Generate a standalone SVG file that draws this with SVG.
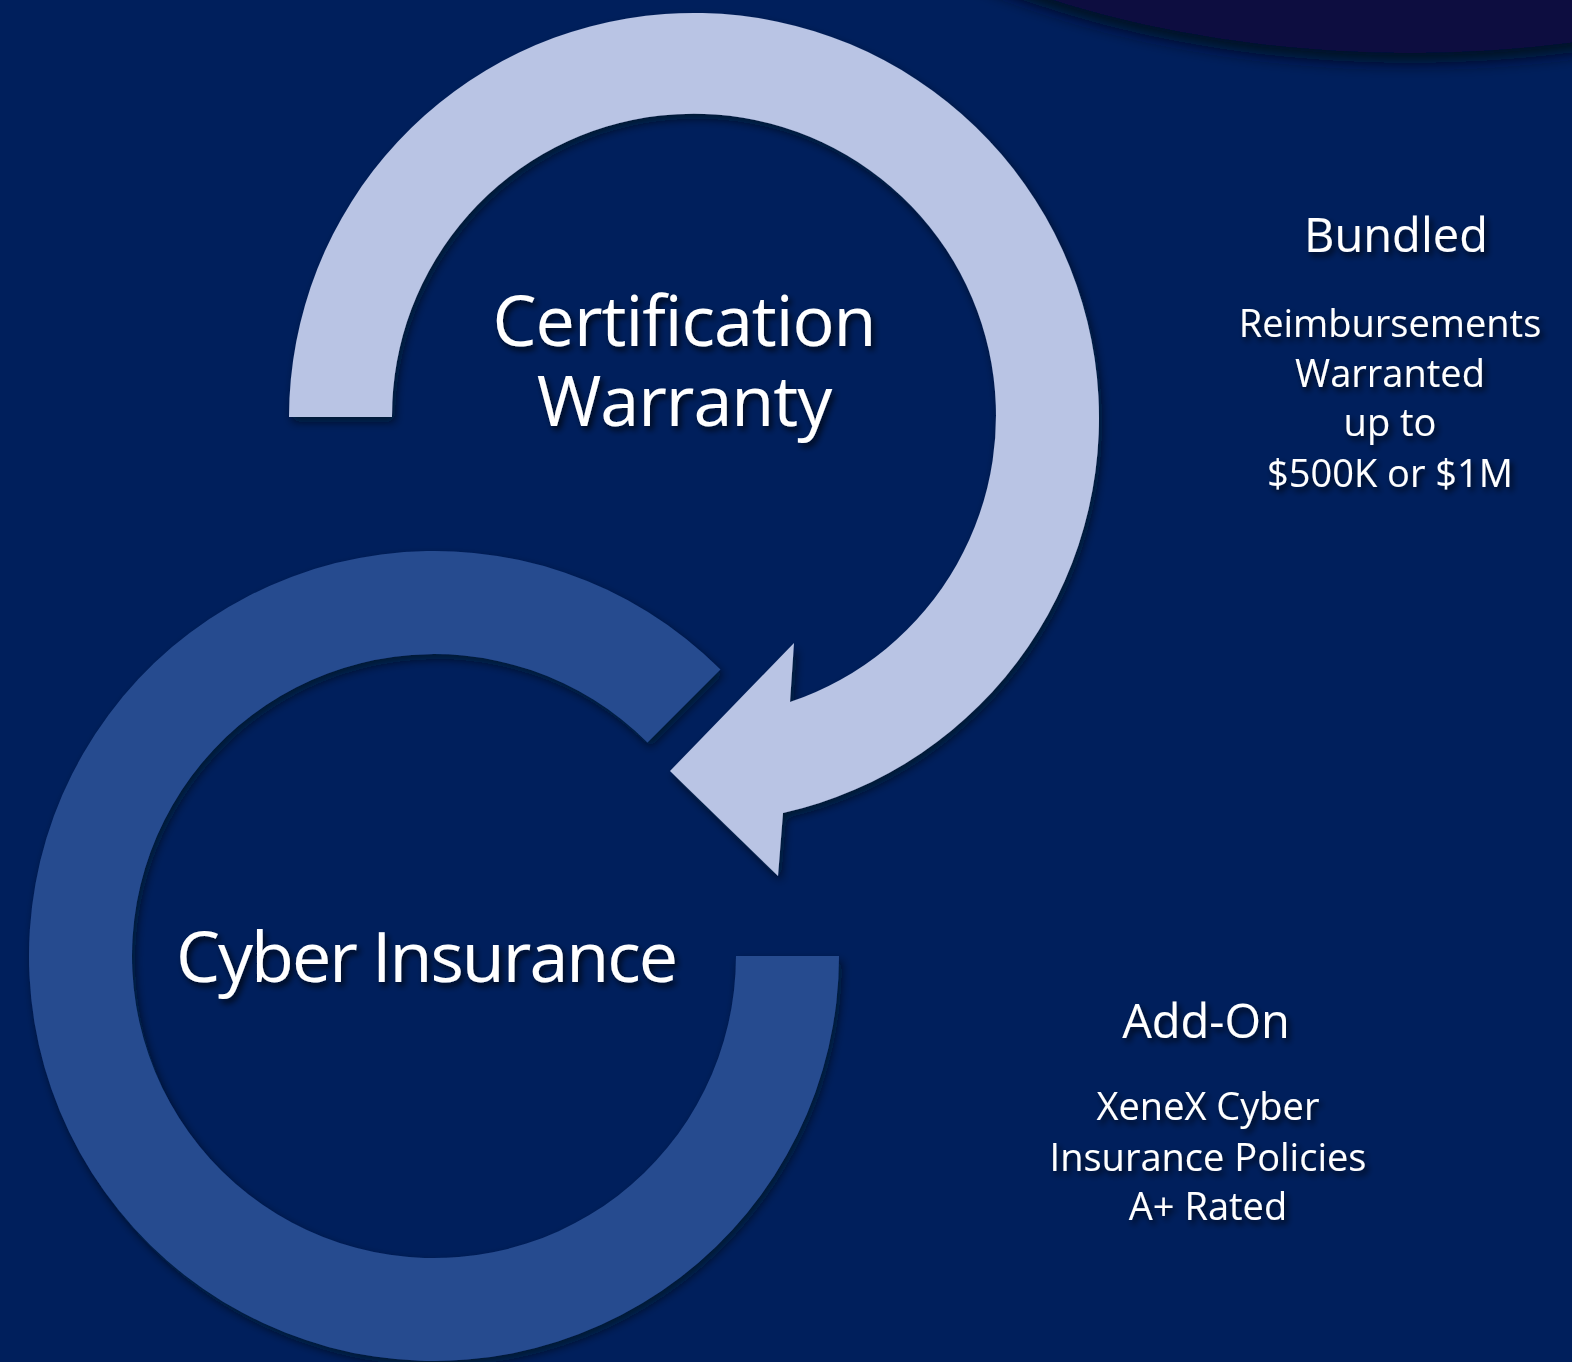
<svg xmlns="http://www.w3.org/2000/svg" width="1572" height="1362" viewBox="0 0 1572 1362">
<defs>
<filter id="sh" x="-20%" y="-20%" width="140%" height="140%">
<feDropShadow dx="3" dy="5" stdDeviation="5" flood-color="#000818" flood-opacity="0.6"/>
</filter>
<filter id="tsh" x="-20%" y="-30%" width="140%" height="160%">
<feDropShadow dx="3" dy="4" stdDeviation="3" flood-color="#000000" flood-opacity="0.75"/>
</filter>
<filter id="topsh" x="-20%" y="-20%" width="140%" height="160%">
<feDropShadow dx="0" dy="10" stdDeviation="8" flood-color="#000a1a" flood-opacity="0.9"/>
</filter>
<style>
.big{font-family:"Open Sans","Noto Sans",sans-serif;font-size:70px;fill:#ffffff;text-anchor:middle;letter-spacing:-1px}
.head{font-family:"Open Sans","Noto Sans",sans-serif;font-size:47px;fill:#ffffff;text-anchor:middle}
.body{font-family:"Open Sans","Noto Sans",sans-serif;font-size:38px;fill:#ffffff;text-anchor:middle}
</style>
</defs>
<rect width="1572" height="1362" fill="#001F5C"/>
<g id="corner" filter="url(#topsh)">
<ellipse cx="1410" cy="-451" rx="800" ry="504" fill="#0A0940"/>
</g>
<g id="connectors"></g>
<g id="cyber-ring" filter="url(#sh)">
<path d="M 839 956 A 405 405 0 1 1 720.4 669.6 L 647.5 742.5 A 302 302 0 1 0 736 956 Z" fill="#284C8F"/>
</g>
<g id="warranty-arrow" filter="url(#sh)">
<path d="M 289 417 A 405 405 0 1 1 783 813 L 778 876 L 670 771 L 794 643 L 790 702 A 302 302 0 1 0 392 417 Z" fill="#B9C4E4"/>
</g>
<g id="certification-warranty" filter="url(#tsh)">
<text class="big" x="684" y="346">Certification</text>
<text class="big" x="684" y="426">Warranty</text>
</g>
<g id="cyber-insurance" filter="url(#tsh)">
<text class="big" x="426" y="982" style="letter-spacing:-2px">Cyber Insurance</text>
</g>
<g id="bundled" filter="url(#tsh)">
<text class="head" x="1396" y="252">Bundled</text>
<text class="body" x="1390" y="337">Reimbursements</text>
<text class="body" x="1390" y="387">Warranted</text>
<text class="body" x="1390" y="436">up to</text>
<text class="body" x="1390" y="487">$500K or $1M</text>
</g>
<g id="add-on" filter="url(#tsh)">
<text class="head" x="1206" y="1038">Add-On</text>
<text class="body" x="1208" y="1120">XeneX Cyber</text>
<text class="body" x="1208" y="1171">Insurance Policies</text>
<text class="body" x="1208" y="1220">A+ Rated</text>
</g>
</svg>
